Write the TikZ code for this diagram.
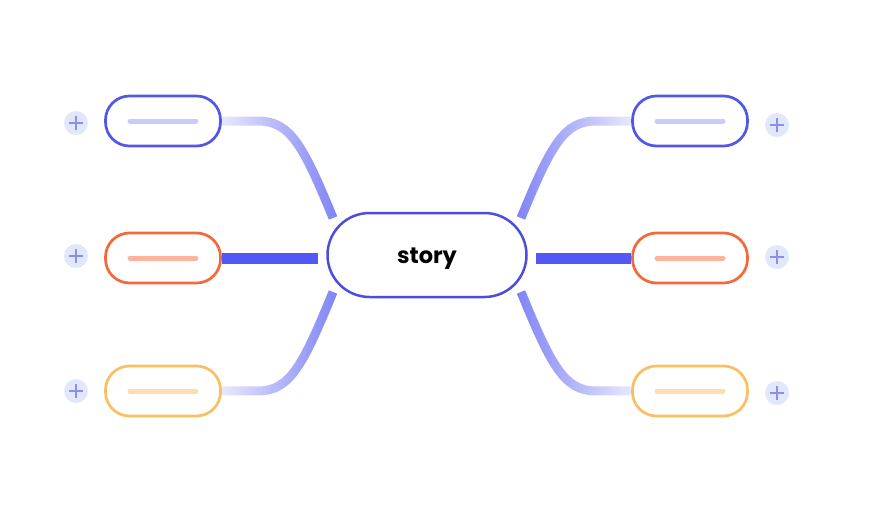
\documentclass[tikz,border=0pt]{standalone}
\usepackage{fontspec}
\setmainfont{Poppins}
\usetikzlibrary{fadings,calc}
\definecolor{cblue}{HTML}{4B4DE0}
\definecolor{lblue}{HTML}{5357E8}
\definecolor{iblue}{HTML}{C9CCFA}
\definecolor{lorange}{HTML}{F4693A}
\definecolor{iorange}{HTML}{FDB39C}
\definecolor{lyellow}{HTML}{F9BF62}
\definecolor{iyellow}{HTML}{FEDDB0}
\definecolor{curvec}{HTML}{8084F5}
\definecolor{straightc}{HTML}{5357F4}
\definecolor{plusbgc}{HTML}{E2E8FC}
\definecolor{plusc}{HTML}{8B8FEA}
\tikzfading[name=fadeL, left color=transparent!85, middle color=transparent!15, right color=transparent!0]
\tikzfading[name=fadeR, left color=transparent!0, middle color=transparent!15, right color=transparent!85]
\begin{document}
\begin{tikzpicture}[x=1pt,y=-1pt,
  leaf/.style={draw, line width=2.7pt, rounded corners=24pt, minimum width=115pt, minimum height=50pt, fill=white, inner sep=0pt},
  center/.style={draw=cblue, line width=2.5pt, rounded corners=42pt, minimum width=199pt, minimum height=84pt, fill=white, text height=16pt, text depth=0pt, font=\bfseries\fontsize{22.5}{26}\selectfont},
  inner/.style={line width=5pt, line cap=round},
  curve/.style={draw=curvec, line width=9pt},
  straight/.style={draw=straightc, line width=11pt},
  plusbg/.style={circle, fill=plusbgc, minimum size=24pt, inner sep=0pt},
  plusline/.style={draw=plusc, line width=1.8pt}
]
\useasboundingbox[fill=white] (0,0) rectangle (875,525);

% leaves
\node[leaf, draw=lblue] (tl) at (163,121) {};
\node[leaf, draw=lorange] (ml) at (163,258) {};
\node[leaf, draw=lyellow] (bl) at (163,391) {};
\node[leaf, draw=lblue] (tr) at (690,121) {};
\node[leaf, draw=lorange] (mr) at (690,258) {};
\node[leaf, draw=lyellow] (br) at (690,391) {};

% central
\node[center] (c) at (427,255) {story};

% connector ends near the central node
\coordinate (eTL) at (333,218);
\coordinate (eBL) at (333,292);
\coordinate (eTR) at (521,218);
\coordinate (eBR) at (521,292);

% connectors
\draw[curve, path fading=fadeL] (tl.east) -- (258,121) .. controls (290,121) and (303,145) .. (eTL);
\draw[curve, path fading=fadeL] (bl.east) -- (258,391) .. controls (290,391) and (303,365) .. (eBL);
\draw[curve, path fading=fadeR] (tr.west) -- (596,121) .. controls (564,121) and (551,145) .. (eTR);
\draw[curve, path fading=fadeR] (br.west) -- (596,391) .. controls (564,391) and (551,365) .. (eBR);
\draw[straight, shorten >=8pt] (ml.east) -- (ml.east -| c.west);
\draw[straight, shorten >=8pt] (mr.west) -- (mr.west -| c.east);

% inner bars
\foreach \n/\col in {tl/iblue, ml/iorange, bl/iyellow, tr/iblue, mr/iorange, br/iyellow}{
  \draw[inner, draw=\col] ($(\n.center)+(-33,0)$) -- ($(\n.center)+(33,0)$);
}

% plus buttons
\node[plusbg] (p1) at (76,123) {};
\node[plusbg] (p2) at (76,256) {};
\node[plusbg] (p3) at (76,391) {};
\node[plusbg] (p4) at (777,125) {};
\node[plusbg] (p5) at (777,257) {};
\node[plusbg] (p6) at (777,393) {};
\foreach \p in {p1,p2,p3,p4,p5,p6}{
  \draw[plusline] ($(\p.center)+(-7,0)$) -- ($(\p.center)+(7,0)$);
  \draw[plusline] ($(\p.center)+(0,-7)$) -- ($(\p.center)+(0,7)$);
}
\end{tikzpicture}
\end{document}
